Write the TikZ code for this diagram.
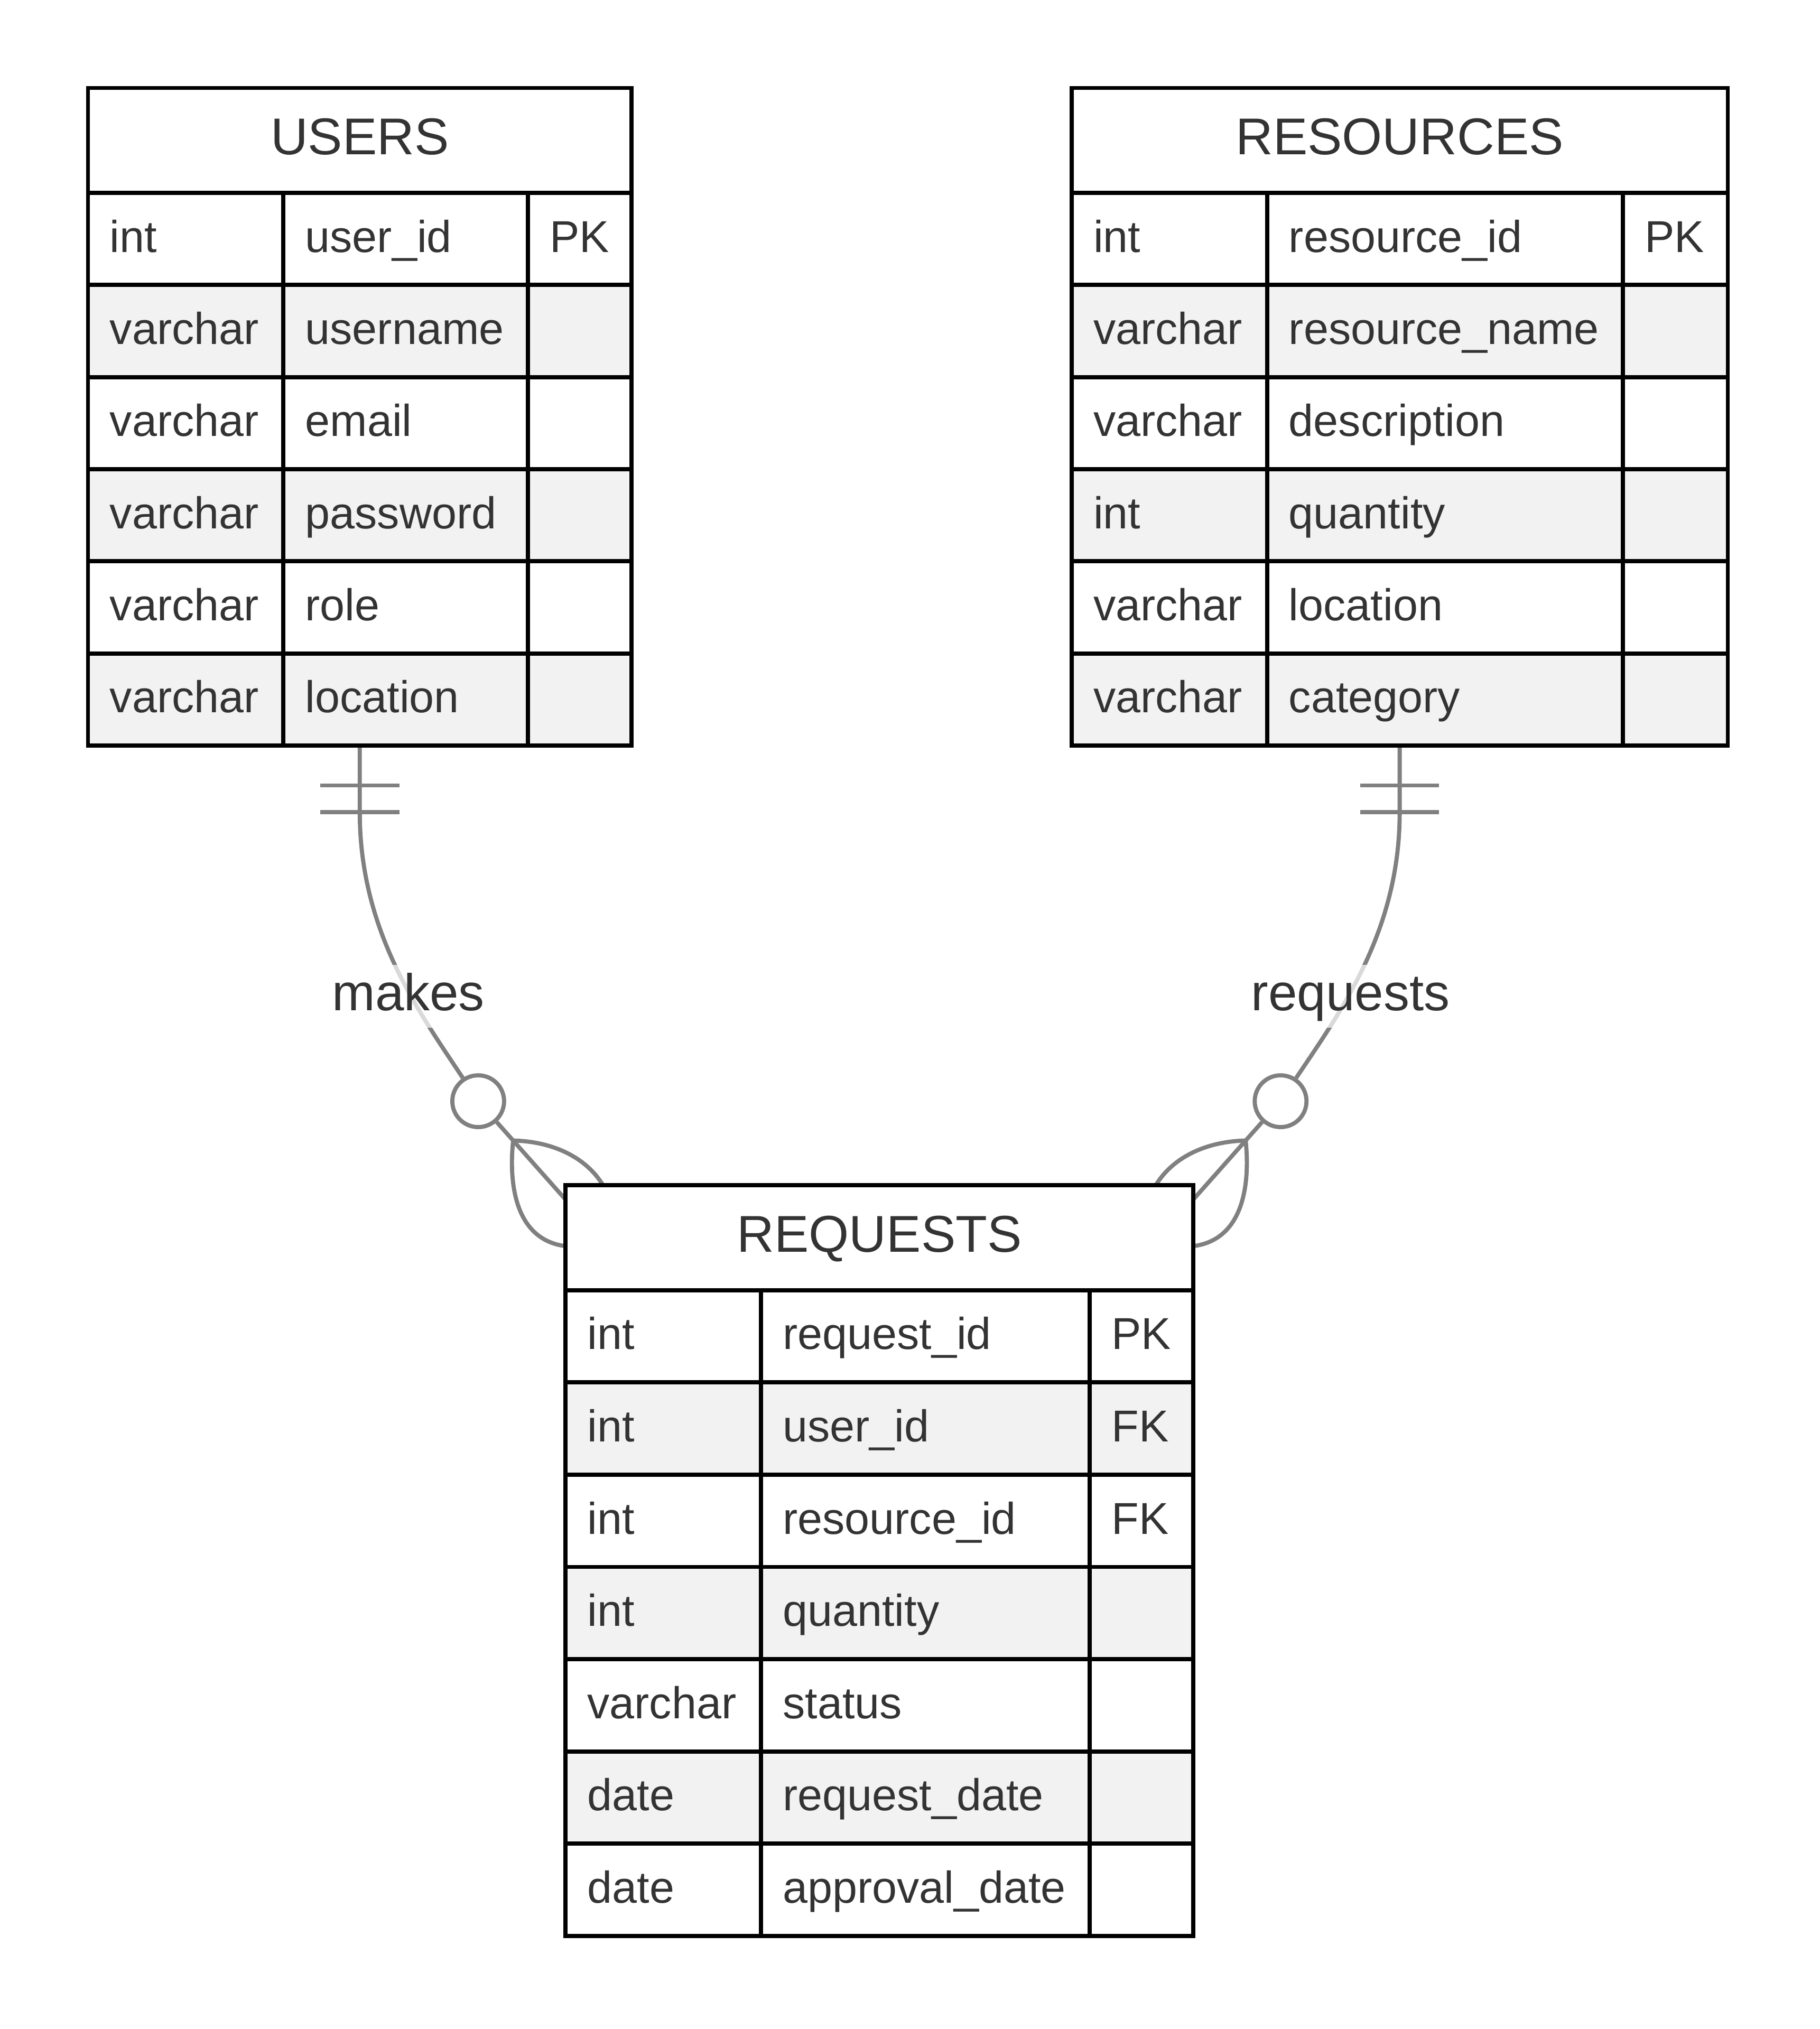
\documentclass[tikz,border=0pt]{standalone}
\usepackage{fontspec}
\setmainfont{Liberation Sans}
\usetikzlibrary{calc}

\definecolor{ink}{HTML}{333333}
\definecolor{rowgray}{HTML}{F2F2F2}
\definecolor{relgray}{HTML}{808080}

\begin{document}
\begin{tikzpicture}[x=0.5pt,y=-0.5pt,
	frame/.style={draw=black,line width=1.6pt},
	cell/.style={anchor=base west,inner sep=0pt,text=ink,font=\fontsize{17.25pt}{20pt}\selectfont},
	title/.style={anchor=base,inner sep=0pt,text=ink,font=\fontsize{20pt}{24pt}\selectfont},
	rel/.style={draw=relgray,line width=1.6pt},
	zero/.style={circle,draw=relgray,line width=1.6pt,fill=white,minimum size=20pt,inner sep=0pt},
	verb/.style={inner xsep=1pt,inner ysep=0pt,text height=17.75pt,text depth=6.5pt,fill=white,fill opacity=0.7,text opacity=1,text=ink,font=\fontsize{20pt}{24pt}\selectfont}]

\useasboundingbox (0,0) rectangle (1406,1568);

\coordinate (users-foot) at (278,576);
\coordinate (res-foot) at (1081.5,576);
\coordinate (req-l) at (437,927);
\coordinate (req-r) at (922,927);

% makes
\node[zero] (zero-l) at (369.5,851) {};
\draw[rel] (users-foot) -- (278,628) .. controls (278,720) and (324.5,783) .. (zero-l);
\draw[rel] (zero-l) -- (req-l);
\coordinate (fork-l) at ($(zero-l.center)!0.4!(req-l)$);
\draw[rel] (fork-l) .. controls (425,882) and (452,893) .. (466,916);
\draw[rel] (fork-l) .. controls (393,915) and (398,958) .. (437,963);
\draw[rel] (247.5,607) -- (308.5,607);
\draw[rel] (247.5,627.5) -- (308.5,627.5);
\node[verb] (makes) at (315.5,769.75) {makes};

% requests
\node[zero] (zero-r) at (989.5,851) {};
\draw[rel] (res-foot) -- (1081.5,628) .. controls (1081.5,720) and (1035,783) .. (zero-r);
\draw[rel] (zero-r) -- (req-r);
\coordinate (fork-r) at ($(zero-r.center)!0.4!(req-r)$);
\draw[rel] (fork-r) .. controls (934,882) and (907,893) .. (893,916);
\draw[rel] (fork-r) .. controls (966,915) and (961,958) .. (922,963);
\draw[rel] (1051,607) -- (1112,607);
\draw[rel] (1051,627.5) -- (1112,627.5);
\node[verb] (requests) at (1043.5,769.75) {requests};

% USERS
\fill[white] (68,68) rectangle (488,576);
\foreach \ty/\nm/\ky [count=\i] in {int/user\_id/PK,varchar/username/{},varchar/email/{},varchar/password/{},varchar/role/{},varchar/location/{}}{
	\pgfmathsetmacro{\ry}{149+(\i-1)*71.2}
	\ifodd\i\else\fill[rowgray] (68,\ry) rectangle (488,\ry+71.2);\fi
	\node[cell] (users-t\i) at (84.5,\ry+45.8) {\ty};
	\node[cell] (users-n\i) at (235.5,\ry+45.8) {\nm};
	\node[cell] (users-k\i) at (424.5,\ry+45.8) {\ky};
	\draw[frame] (68,\ry) -- (488,\ry);
}
\draw[frame] (219,149) -- (219,576);
\draw[frame] (408,149) -- (408,576);
\draw[frame] (68,68) rectangle (488,576);
\node[title] (users) at (278,119.5) {USERS};

% RESOURCES
\fill[white] (828,68) rectangle (1335,576);
\foreach \ty/\nm/\ky [count=\i] in {int/resource\_id/PK,varchar/resource\_name/{},varchar/description/{},int/quantity/{},varchar/location/{},varchar/category/{}}{
	\pgfmathsetmacro{\ry}{149+(\i-1)*71.2}
	\ifodd\i\else\fill[rowgray] (828,\ry) rectangle (1335,\ry+71.2);\fi
	\node[cell] (res-t\i) at (844.5,\ry+45.8) {\ty};
	\node[cell] (res-n\i) at (995.5,\ry+45.8) {\nm};
	\node[cell] (res-k\i) at (1270.5,\ry+45.8) {\ky};
	\draw[frame] (828,\ry) -- (1335,\ry);
}
\draw[frame] (979,149) -- (979,576);
\draw[frame] (1254,149) -- (1254,576);
\draw[frame] (828,68) rectangle (1335,576);
\node[title] (resources) at (1081.5,119.5) {RESOURCES};

% REQUESTS
\fill[white] (437,916) rectangle (922,1496);
\foreach \ty/\nm/\ky [count=\i] in {int/request\_id/PK,int/user\_id/FK,int/resource\_id/FK,int/quantity/{},varchar/status/{},date/request\_date/{},date/approval\_date/{}}{
	\pgfmathsetmacro{\ry}{997+(\i-1)*71.3}
	\ifodd\i\else\fill[rowgray] (437,\ry) rectangle (922,\ry+71.3);\fi
	\node[cell] (req-t\i) at (453.5,\ry+45.8) {\ty};
	\node[cell] (req-n\i) at (604.5,\ry+45.8) {\nm};
	\node[cell] (req-k\i) at (858.5,\ry+45.8) {\ky};
	\draw[frame] (437,\ry) -- (922,\ry);
}
\draw[frame] (588,997) -- (588,1496);
\draw[frame] (842,997) -- (842,1496);
\draw[frame] (437,916) rectangle (922,1496);
\node[title] (requests-tab) at (679.5,967.5) {REQUESTS};

\end{tikzpicture}
\end{document}
